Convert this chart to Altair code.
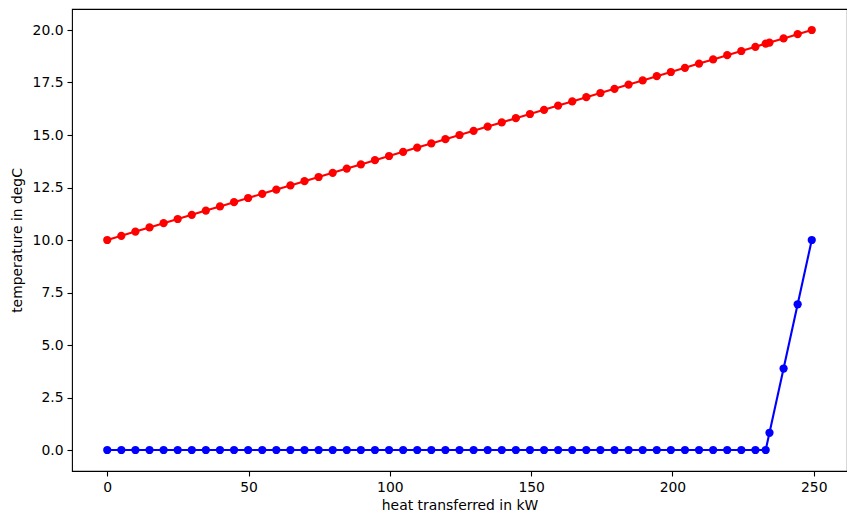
import altair as alt
import pandas as pd

heat_kw = [0.0, 4.99, 9.97, 14.96, 19.94, 24.93, 29.92, 34.9, 39.89, 44.87,
           49.86, 54.85, 59.83, 64.82, 69.8, 74.79, 79.78, 84.76, 89.75, 94.73,
           99.72, 104.71, 109.69, 114.68, 119.66, 124.65, 129.64, 134.62, 139.61, 144.59,
           149.58, 154.57, 159.55, 164.54, 169.52, 174.51, 179.5, 184.48, 189.47, 194.45,
           199.44, 204.43, 209.41, 214.4, 219.38, 224.37, 229.36, 233.0, 234.34, 239.33,
           244.31, 249.3]

hot_temp = [10.0, 10.2, 10.4, 10.6, 10.8, 11.0, 11.2, 11.4, 11.6, 11.8,
            12.0, 12.2, 12.4, 12.6, 12.8, 13.0, 13.2, 13.4, 13.6, 13.8,
            14.0, 14.2, 14.4, 14.6, 14.8, 15.0, 15.2, 15.4, 15.6, 15.8,
            16.0, 16.2, 16.4, 16.6, 16.8, 17.0, 17.2, 17.4, 17.6, 17.8,
            18.0, 18.2, 18.4, 18.6, 18.8, 19.0, 19.2, 19.35, 19.4, 19.6,
            19.8, 20.0]

cold_temp = [0.0, 0.0, 0.0, 0.0, 0.0, 0.0, 0.0, 0.0, 0.0, 0.0,
             0.0, 0.0, 0.0, 0.0, 0.0, 0.0, 0.0, 0.0, 0.0, 0.0,
             0.0, 0.0, 0.0, 0.0, 0.0, 0.0, 0.0, 0.0, 0.0, 0.0,
             0.0, 0.0, 0.0, 0.0, 0.0, 0.0, 0.0, 0.0, 0.0, 0.0,
             0.0, 0.0, 0.0, 0.0, 0.0, 0.0, 0.0, 0.0, 0.82, 3.88,
             6.94, 10.0]

x_ticks = [0, 50, 100, 150, 200, 250]
y_ticks = [0.0, 2.5, 5.0, 7.5, 10.0, 12.5, 15.0, 17.5, 20.0]

rows = []
for i, q in enumerate(heat_kw):
    rows.append({"q": q, "T": hot_temp[i], "stream": "hot", "i": i})
    rows.append({"q": q, "T": cold_temp[i], "stream": "cold", "i": i})
df = pd.DataFrame(rows)

FONT = "DejaVu Sans"
FS = 13.9

x_enc = alt.X("q:Q", scale=alt.Scale(domain=[-12.47, 261.77], nice=False, zero=False),
              axis=alt.Axis(values=x_ticks, format="d", title="heat transferred in kW",
                            grid=False, domain=False, tickSize=5, labelPadding=4,
                            titlePadding=5))
y_enc = alt.Y("T:Q", scale=alt.Scale(domain=[-1, 21], nice=False, zero=False),
              axis=alt.Axis(values=y_ticks, format=".1f", title="temperature in degC",
                            grid=False, domain=False, tickSize=5, labelPadding=4,
                            titlePadding=8))
color_enc = alt.Color("stream:N", scale=alt.Scale(domain=["hot", "cold"],
                                                 range=["#ff0000", "#0000ff"]),
                      legend=None)

base = alt.Chart(df).encode(x=x_enc, y=y_enc, color=color_enc, detail="stream:N")

lines = base.mark_line(strokeWidth=2.1, clip=True).encode(order="i:Q")
points = base.mark_circle(size=68, opacity=1, clip=True)

chart = alt.layer(lines, points).properties(
    width=775,
    height=462,
    background="white",
    autosize=alt.AutoSizeParams(type="none"),
    padding={"left": 64, "top": 1, "right": 0, "bottom": 50},
).configure_view(
    stroke="black", strokeWidth=1.1
).configure_axis(
    labelFont=FONT, titleFont=FONT, labelFontSize=FS, titleFontSize=FS,
    titleFontWeight="normal", labelColor="black", titleColor="black",
    tickColor="black", tickWidth=1.1
)

chart.save("out.html", embed_options={"renderer": "svg", "actions": False})
